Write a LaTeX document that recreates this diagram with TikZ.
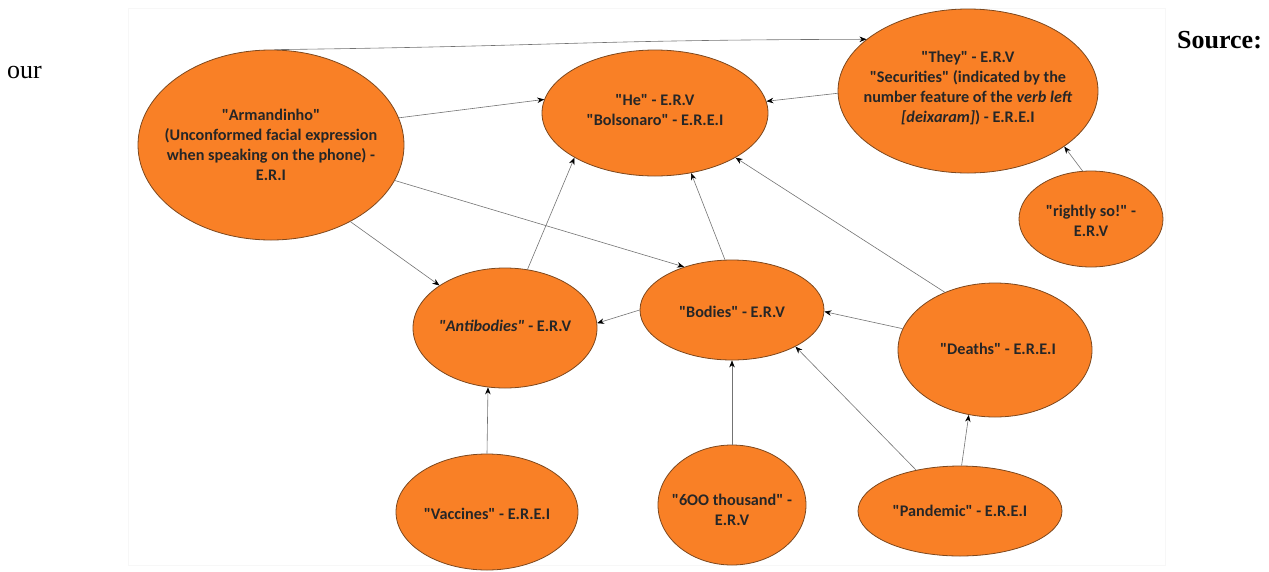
\documentclass[tikz,border=0pt]{standalone}
\usepackage{fontspec}
\setmainfont{Liberation Serif}
\newfontfamily\bubblefont{Carlito}
\usepackage{tikz}
\usetikzlibrary{shapes.geometric, arrows.meta}
\definecolor{bubbleorange}{RGB}{249,128,38}
\definecolor{bubbleedge}{RGB}{125,72,30}

\begin{document}
\begin{tikzpicture}[
    x=1pt, y=-1pt,
    bubble/.style={draw=bubbleedge, ellipse, fill=bubbleorange, inner sep=0pt, line width=0.8pt},
    txt/.style={align=center, inner sep=0pt, font=\bubblefont\bfseries\fontsize{16.2}{20}\selectfont, text=black!85},
    arrow/.style={draw=black!55, line width=0.6pt, -{Stealth[length=7pt, width=5.5pt, color=black]}}
]
\useasboundingbox (0,0) rectangle (1269,571);
\draw[black!3] (128,8) rectangle (1165,565);

% the bubbles
\node[bubble, minimum width=266pt, minimum height=190pt] (arm) at (271,145) {};
\node[bubble, minimum width=226pt, minimum height=126pt] (he) at (655,113) {};
\node[bubble, minimum width=260pt, minimum height=164pt] (they) at (968,91) {};
\node[bubble, minimum width=144pt, minimum height=96pt] (rightly) at (1091,219) {};
\node[bubble, minimum width=184pt, minimum height=120pt] (anti) at (505,328) {};
\node[bubble, minimum width=184pt, minimum height=100pt] (bodies) at (732,310) {};
\node[bubble, minimum width=194pt, minimum height=134pt] (deaths) at (995,350) {};
\node[bubble, minimum width=182pt, minimum height=116pt] (vacc) at (487,512) {};
\node[bubble, minimum width=148pt, minimum height=120pt] (six) at (732,505) {};
\node[bubble, minimum width=204pt, minimum height=90pt] (pand) at (960,511) {};

% the texts
\node[txt] (armtext) at (271,145) {"Armandinho"\\(Unconformed facial expression\\when speaking on the phone) -\\E.R.I};
\node[txt] (hetext) at (655,110) {"He" - E.R.V\\"Bolsonaro" - E.R.E.I};
\node[txt] (theytext) at (968,88) {"They" - E.R.V\\"Securities" (indicated by the\\number feature of the \textit{verb left}\\\textit{[deixaram]}) - E.R.E.I};
\node[txt] (rightlytext) at (1091,221) {"rightly so!" -\\E.R.V};
\node[txt] (antitext) at (505,326) {\textit{"Antibodies"} - E.R.V};
\node[txt] (bodiestext) at (732,312) {"Bodies" - E.R.V};
\node[txt] (deathstext) at (998,349) {"Deaths" - E.R.E.I};
\node[txt] (vacctext) at (487,514) {"Vaccines" - E.R.E.I};
\node[txt] (sixtext) at (732,510) {"6OO thousand" -\\E.R.V};
\node[txt] (pandtext) at (960,511) {"Pandemic" - E.R.E.I};

% caption pieces
\node[anchor=base west, inner sep=0pt, font=\fontsize{26}{30}\selectfont\bfseries] (source) at (1177,48) {Source:};
\node[anchor=base west, inner sep=0pt, font=\fontsize{26}{30}\selectfont] (our) at (7,78) {our};

% the links
\draw[arrow] (arm.88) .. controls (565,46) and (580,40) .. (they.153);
\draw[arrow] (arm.12) -- (he.173);
\draw[arrow] (arm.-16) -- (bodies.138);
\draw[arrow] (arm.-44) -- (anti.147);
\draw[arrow] (anti.69) -- (he.-151);
\draw[arrow] (bodies.98) -- (he.-59);
\draw[arrow] (deaths.131) -- (he.-29);
\draw[arrow] (they.181) -- (he.6);
\draw[arrow] (rightly.100) -- (they.-30);
\draw[arrow] (bodies.180) -- (anti.3);
\draw[arrow] (deaths.167) -- (bodies.-1);
\draw[arrow] (six.90) -- (bodies.-90);
\draw[arrow] (pand.137) -- (bodies.-30);
\draw[arrow] (pand.88) -- (deaths.-112);
\draw[arrow] (vacc.90) -- (anti.-106);
\end{tikzpicture}
\end{document}
